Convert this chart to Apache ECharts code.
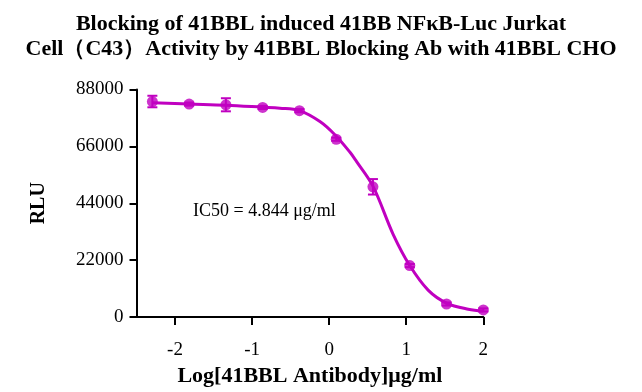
<!DOCTYPE html>
<html><head><meta charset="utf-8">
<script src="https://cdn.jsdelivr.net/npm/echarts@6/dist/echarts.min.js"></script>
<style>html,body{margin:0;padding:0;background:#fff}#c{width:642px;height:392px}</style>
</head><body><div id="c"></div>
<script>
const titleLines = ['Blocking of 41BBL induced 41BB NFκB-Luc Jurkat', 'Cell（C43）Activity by 41BBL Blocking Ab with 41BBL CHO'];
const xTitle = 'Log[41BBL Antibody]μg/ml';
const yTitle = 'RLU';
const annotation = 'IC50 = 4.844 μg/ml';
const logConc = [-2.294, -1.817, -1.340, -0.863, -0.386, 0.0915, 0.568, 1.046, 1.523, 2.0];
const meanRLU = [83350, 82360, 82090, 81070, 79810, 68760, 50360, 19890, 5030, 2740];
const errRLU  = [2230, 600, 2530, 600, 600, 600, 2990, 600, 600, 600];
const curveX = [-2.294, -1.817, -1.340, -0.863, -0.64, -0.386, -0.12, 0.074, 0.268, 0.354, 0.568, 0.83, 1.046, 1.284, 1.523, 1.805, 2.0];
const curveY = [82860, 82360, 81900, 81140, 80760, 79810, 75600, 70500, 63800, 60200, 50600, 32000, 19900, 10400, 5400, 3000, 2300];
const xTicks = [-2, -1, 0, 1, 2];
const yMin = 0, yMax = 88000, yStep = 22000;
const xMin = -2.5, xMax = 2;

const COLOR = '#C000C0';
const FONT = 'Liberation Serif';
const chart = echarts.init(document.getElementById('c'), null, {renderer: 'canvas'});
chart.setOption({
  animation: false,
  backgroundColor: '#fff',
  title: {
    text: titleLines.join('\n'),
    left: 'center', top: 7,
    textStyle: {fontFamily: FONT, fontWeight: 'bold', fontSize: 22, lineHeight: 25, color: '#000'}
  },
  grid: {left: 136.5, right: 158.7, top: 89.5, bottom: 71.5, containLabel: false},
  xAxis: {
    type: 'value', min: xMin, max: xMax,
    name: xTitle, nameLocation: 'middle', nameGap: 48,
    nameTextStyle: {fontFamily: FONT, fontWeight: 'bold', fontSize: 22, color: '#000'},
    axisLine: {onZero: false, lineStyle: {color: '#000', width: 2}},
    axisTick: {show: true, length: 8, lineStyle: {color: '#000', width: 2}, customValues: xTicks},
    axisLabel: {fontFamily: FONT, fontSize: 19, color: '#000', margin: 24, customValues: xTicks},
    splitLine: {show: false}
  },
  yAxis: {
    type: 'value', min: yMin, max: yMax, interval: yStep,
    name: yTitle, nameLocation: 'middle', nameGap: 88, nameRotate: 90,
    nameTextStyle: {fontFamily: FONT, fontWeight: 'bold', fontSize: 20, color: '#000'},
    axisLine: {show: true, onZero: false, lineStyle: {color: '#000', width: 2}},
    axisTick: {show: true, length: 7, lineStyle: {color: '#000', width: 2}},
    axisLabel: {fontFamily: FONT, fontSize: 19, color: '#000', margin: 13, formatter: v => String(v)},
    splitLine: {show: false}
  },
  graphic: [{
    type: 'text', left: 193, top: 202,
    style: {text: annotation, fontFamily: FONT, fontSize: 18, fill: '#000'}
  }],
  series: [
    {
      type: 'line', data: curveX.map((x, i) => [x, curveY[i]]),
      smooth: 0.35, showSymbol: false, symbol: 'none',
      lineStyle: {color: COLOR, width: 3}, z: 2
    },
    {
      type: 'custom', z: 3,
      data: logConc.map((x, i) => [x, meanRLU[i], errRLU[i]]),
      renderItem: function (params, api) {
        const x = api.value(0), m = api.value(1), e = api.value(2);
        const top = api.coord([x, m + e]), bot = api.coord([x, m - e]);
        const hw = 5;
        const st = {stroke: COLOR, lineWidth: 2};
        return {type: 'group', children: [
          {type: 'line', shape: {x1: top[0], y1: top[1], x2: bot[0], y2: bot[1]}, style: st},
          {type: 'line', shape: {x1: top[0] - hw, y1: top[1], x2: top[0] + hw, y2: top[1]}, style: st},
          {type: 'line', shape: {x1: bot[0] - hw, y1: bot[1], x2: bot[0] + hw, y2: bot[1]}, style: st}
        ]};
      }
    },
    {
      type: 'scatter', z: 4, symbol: 'circle', symbolSize: 11,
      data: logConc.map((x, i) => [x, meanRLU[i]]),
      itemStyle: {color: COLOR}
    }
  ]
});
</script></body></html>
